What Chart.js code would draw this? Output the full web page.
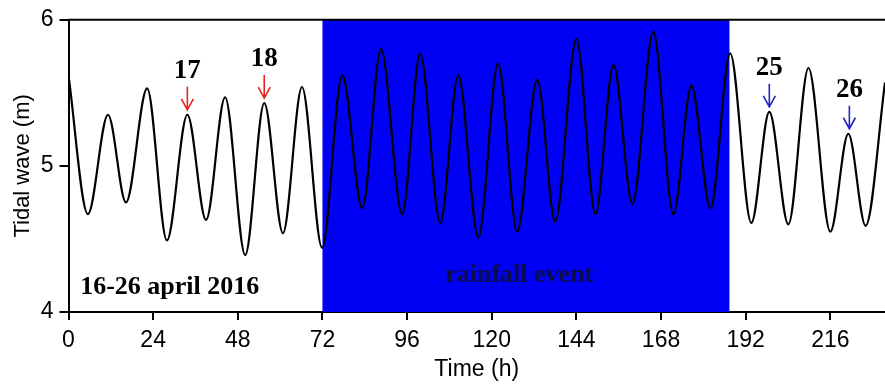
<!DOCTYPE html>
<html>
<head>
<meta charset="utf-8">
<script src="https://cdn.jsdelivr.net/npm/chart.js@4"></script>
<style>
  body { margin: 0; background: #fff; }
  #wrap { width: 885px; height: 387px; }
</style>
</head>
<body>
<div id="wrap"><canvas id="tide" width="885" height="387"></canvas></div>
<script>
// tide extrema (hours, metres)
const hours = [0, 5.5, 11.2, 16.3, 22.3, 27.9, 33.7, 39.0, 44.4, 50.1, 55.5, 60.8, 66.2, 71.9,
  77.6, 83.3, 88.6, 94.6, 99.7, 105.4, 110.5, 116.2, 121.8, 127.2, 132.9, 138.0, 144.0, 149.4,
  154.5, 159.9, 165.8, 171.5, 176.6, 182.0, 187.6, 193.6, 198.7, 204.1, 209.8, 216.0, 221.1, 226.0, 231.5];
const tide = [5.62, 4.67, 5.35, 4.75, 5.53, 4.49, 5.35, 4.63, 5.47, 4.39, 5.43, 4.54, 5.54, 4.44,
  5.62, 4.71, 5.80, 4.67, 5.77, 4.61, 5.62, 4.51, 5.70, 4.55, 5.59, 4.62, 5.87, 4.67,
  5.69, 4.74, 5.92, 4.67, 5.55, 4.71, 5.77, 4.61, 5.37, 4.60, 5.67, 4.55, 5.22, 4.59, 5.57];

// rainfall window (h)
const rainStart = 72;
const rainEnd = 187.4;

// day markers: label, hour of the peak, peak value
const markLabels = ['17', '18', '25', '26'];
const markHours = [33.7, 55.5, 198.7, 221.4];
const markPeaks = [5.35, 5.43, 5.37, 5.22];
const markColors = ['#e8221c', '#e8221c', '#2323c8', '#2323c8'];

const sans = '"Liberation Sans", Arial, sans-serif';
const serif = '"Liberation Serif", "Times New Roman", serif';

const extras = {
  id: 'extras',
  beforeDatasetsDraw(chart) {
    const { ctx, chartArea, scales } = chart;
    const x0 = scales.x.getPixelForValue(rainStart);
    const x1 = scales.x.getPixelForValue(rainEnd);
    ctx.save();
    ctx.fillStyle = 'rgb(0,0,245)';
    ctx.fillRect(x0, chartArea.top, x1 - x0, chartArea.bottom - chartArea.top);
    ctx.restore();
  },
  afterDatasetsDraw(chart) {
    const { ctx, chartArea, scales } = chart;
    ctx.save();
    // top frame line
    ctx.strokeStyle = '#000';
    ctx.lineWidth = 2;
    ctx.beginPath();
    ctx.moveTo(chartArea.left, chartArea.top);
    ctx.lineTo(chartArea.right, chartArea.top);
    ctx.stroke();

    // arrows and day numbers
    markLabels.forEach((lab, i) => {
      const px = scales.x.getPixelForValue(markHours[i]);
      const tip = scales.y.getPixelForValue(markPeaks[i]) - 5;
      const top = tip - 23;
      ctx.strokeStyle = markColors[i];
      ctx.lineWidth = 1.6;
      ctx.beginPath();
      ctx.moveTo(px, top);
      ctx.lineTo(px, tip);
      ctx.moveTo(px - 6, tip - 11);
      ctx.lineTo(px, tip);
      ctx.lineTo(px + 6, tip - 11);
      ctx.stroke();
      ctx.fillStyle = '#000';
      ctx.font = 'bold 27px ' + serif;
      ctx.textAlign = 'center';
      ctx.textBaseline = 'middle';
      ctx.fillText(lab, px, top - 16);
    });

    ctx.font = 'bold 26px ' + serif;
    ctx.textBaseline = 'middle';
    ctx.textAlign = 'left';
    ctx.fillStyle = '#000';
    ctx.fillText('16-26 april 2016', scales.x.getPixelForValue(3.3), scales.y.getPixelForValue(4.17));
    ctx.textAlign = 'center';
    ctx.fillStyle = '#0c0c4c';
    ctx.fillText('rainfall event', scales.x.getPixelForValue(127.8), scales.y.getPixelForValue(4.25));
    ctx.restore();
  }
};

new Chart(document.getElementById('tide'), {
  type: 'line',
  data: {
    datasets: [{
      data: hours.map((h, i) => ({ x: h, y: tide[i] })),
      borderColor: '#000',
      borderWidth: 2.2,
      pointRadius: 0,
      cubicInterpolationMode: 'monotone',
      fill: false
    }]
  },
  options: {
    responsive: false,
    animation: false,
    layout: { padding: { left: 10, top: 13, right: 0, bottom: 4 } },
    plugins: { legend: { display: false }, tooltip: { enabled: false } },
    scales: {
      x: {
        type: 'linear',
        min: 0,
        max: 231.5,
        afterFit: s => { s.height = 71; },
        ticks: { stepSize: 24, includeBounds: false, color: '#000', padding: 7, maxRotation: 0,
                 font: { family: sans, size: 23 } },
        grid: { display: true, drawOnChartArea: false, drawTicks: true, tickLength: 8, color: '#000', lineWidth: 2 },
        border: { display: true, color: '#000', width: 2 },
        title: { display: true, text: 'Time (h)', color: '#000', padding: 0,
                 font: { family: sans, size: 23 } }
      },
      y: {
        min: 4,
        max: 6,
        afterFit: s => { s.width = 58.5; },
        ticks: { stepSize: 1, color: '#000', padding: 6, font: { family: sans, size: 23 } },
        grid: { display: true, drawOnChartArea: false, drawTicks: true, tickLength: 9, color: '#000', lineWidth: 2 },
        border: { display: true, color: '#000', width: 2 },
        title: { display: true, text: 'Tidal wave (m)', color: '#000', padding: 0,
                 font: { family: sans, size: 22 } }
      }
    }
  },
  plugins: [extras]
});
</script>
</body>
</html>
